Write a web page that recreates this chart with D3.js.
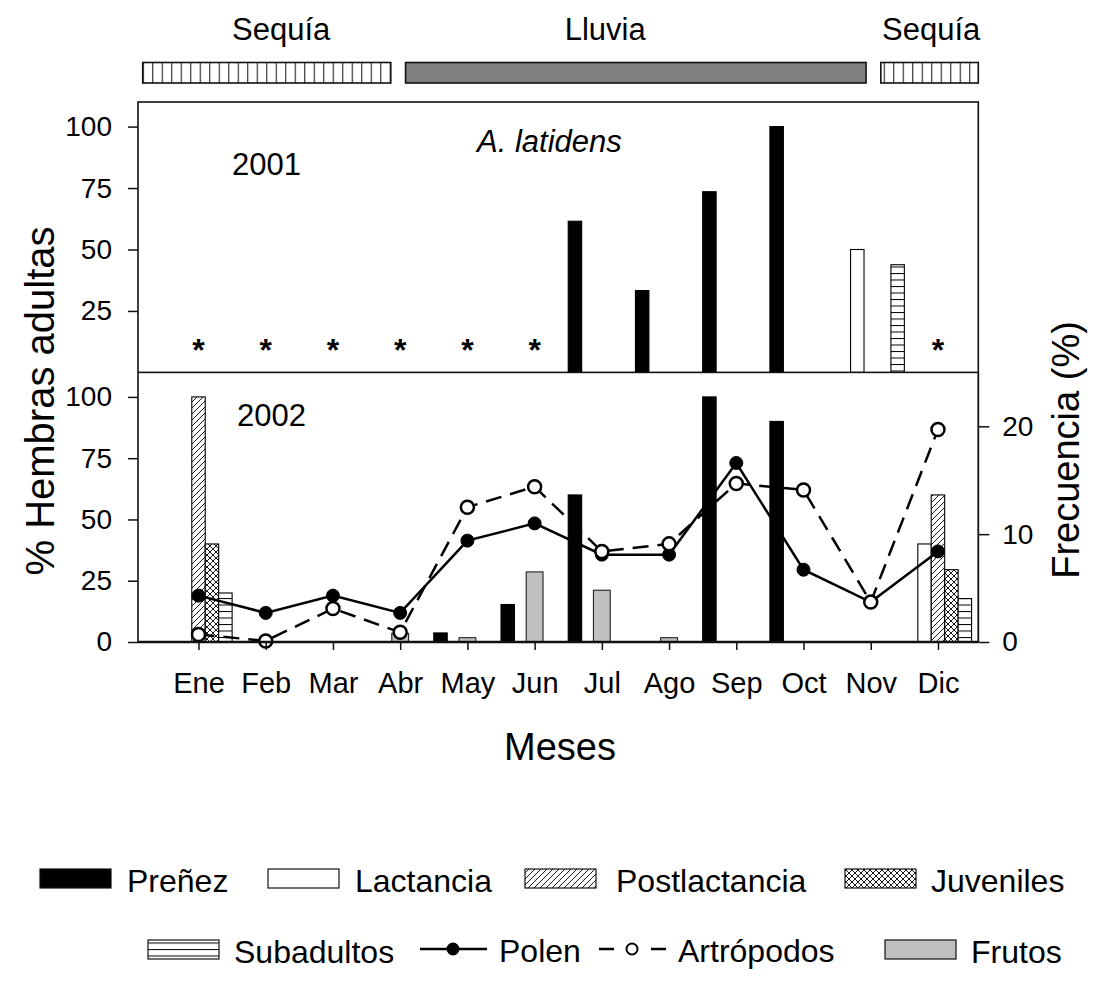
<!DOCTYPE html>
<html>
<head>
<meta charset="utf-8">
<script src="https://cdn.jsdelivr.net/npm/d3@7"></script>
<style>
  body { margin: 0; background: #fff; }
  text { font-family: Arial, "Liberation Sans", sans-serif; fill: #000; }
</style>
</head>
<body>
<svg id="chart" width="1093" height="991"></svg>
<script>
// ---- data ----
const months = ["Ene", "Feb", "Mar", "Abr", "May", "Jun", "Jul", "Ago", "Sep", "Oct", "Nov", "Dic"];

// 2001: % of adult females in each reproductive state
const prenez2001     = [0, 0, 0, 0, 0, 0, 61.5, 33.3, 73.5, 100, 0, 0];
const lactancia2001  = [0, 0, 0, 0, 0, 0, 0, 0, 0, 0, 50, 0];
const subadultos2001 = [0, 0, 0, 0, 0, 0, 0, 0, 0, 0, 43.8, 0];
const sinMuestra2001 = ["Ene", "Feb", "Mar", "Abr", "May", "Jun", "Dic"];

// 2002: % of adult females in each reproductive state
const prenez2002        = [0, 0, 0, 0, 3.7, 15.3, 60, 0, 100, 90, 0, 0];
const lactancia2002     = [0, 0, 0, 0, 0, 0, 0, 0, 0, 0, 0, 40];
const postlactancia2002 = [100, 0, 0, 0, 0, 0, 0, 0, 0, 0, 0, 60];
const juveniles2002     = [40, 0, 0, 0, 0, 0, 0, 0, 0, 0, 0, 29.5];
const subadultos2002    = [20, 0, 0, 0, 0, 0, 0, 0, 0, 0, 0, 17.7];

// 2002: diet frequency (%)
const frutos     = [0, 0, 0, 0.8, 0.4, 6.5, 4.8, 0.4, 0, 0, 0, 0];
const polen      = [4.3, 2.7, 4.3, 2.7, 9.4, 11.0, 8.1, 8.1, 16.6, 6.7, 3.7, 8.4];
const artropodos = [0.7, 0.1, 3.1, 0.9, 12.5, 14.4, 8.4, 9.1, 14.7, 14.1, 3.7, 19.7];

// seasons (month positions along the x axis)
const estaciones = [
  { nombre: "Sequía", inicio: 0.17, fin: 3.86, tipo: "seca", etiqueta: 2.23 },
  { nombre: "Lluvia", inicio: 4.08, fin: 10.93, tipo: "lluvia", etiqueta: 7.05 },
  { nombre: "Sequía", inicio: 11.15, fin: 12.6, tipo: "seca", etiqueta: 11.9 }
];

const leftTicksTop = [25, 50, 75, 100];
const leftTicksBottom = [0, 25, 50, 75, 100];
const rightTicks = [0, 10, 20];

// ---- layout ----
const svg = d3.select("#chart");
const L = 138, R = 978.3;
const topY0 = 372.4, topY1 = 102, botY0 = 642, botY1 = 372.4;

const x = d3.scaleLinear().domain([0.1, 12.6]).range([L, R]);
const yTop = d3.scaleLinear().domain([0, 110]).range([topY0, topY1]);
const yBot = d3.scaleLinear().domain([0, 110]).range([botY0, botY1]);
const yFreq = d3.scaleLinear().domain([0, 25]).range([botY0, botY1]);

// ---- patterns ----
const defs = svg.append("defs");
function pattern(id, w, h, draw, px, py) {
  const p = defs.append("pattern").attr("id", id).attr("patternUnits", "userSpaceOnUse")
    .attr("width", w).attr("height", h).attr("x", px || 0).attr("y", py || 0);
  p.append("rect").attr("width", w).attr("height", h).attr("fill", "#fff");
  draw(p);
}
pattern("vstripe", 9.5, 10, p => p.append("line").attr("x1", 0.5).attr("x2", 0.5).attr("y1", 0).attr("y2", 10)
  .attr("stroke", "#222").attr("stroke-width", 1.2), x(0.17));
pattern("diag", 6, 6, p => p.append("path").attr("d", "M-1,7 L7,-1 M-1,1 L1,-1 M5,7 L7,5")
  .attr("stroke", "#000").attr("stroke-width", 0.9));
pattern("cross", 6, 6, p => p.append("path").attr("d", "M-1,7 L7,-1 M-1,1 L1,-1 M5,7 L7,5 M-1,-1 L7,7 M-1,5 L1,7 M5,-1 L7,1")
  .attr("stroke", "#000").attr("stroke-width", 0.9));
pattern("horiz", 10, 6.5, p => p.append("line").attr("x1", 0).attr("x2", 10).attr("y1", 0.5).attr("y2", 0.5)
  .attr("stroke", "#000").attr("stroke-width", 1), 0, 0);

// ---- season bars ----
const seasonG = svg.append("g");
seasonG.selectAll("rect").data(estaciones).join("rect")
  .attr("x", d => x(d.inicio)).attr("y", 62.5)
  .attr("width", d => x(d.fin) - x(d.inicio)).attr("height", 20.5)
  .attr("fill", d => d.tipo === "seca" ? "url(#vstripe)" : "#808080")
  .attr("stroke", "#111").attr("stroke-width", 1.6);
seasonG.selectAll("text").data(estaciones).join("text")
  .attr("x", d => x(d.etiqueta)).attr("y", 40)
  .attr("text-anchor", "middle").attr("font-size", 31)
  .text(d => d.nombre);

// ---- bars ----
const barW = 0.2;
const series2001 = [
  { values: prenez2001, off: -0.4, fill: "#000" },
  { values: lactancia2001, off: -0.2, fill: "#fff" },
  { values: subadultos2001, off: 0.4, fill: "url(#horiz)" }
];
const series2002 = [
  { values: prenez2002, off: -0.4, fill: "#000" },
  { values: lactancia2002, off: -0.2, fill: "#fff" },
  { values: postlactancia2002, off: 0, fill: "url(#diag)" },
  { values: juveniles2002, off: 0.2, fill: "url(#cross)" },
  { values: subadultos2002, off: 0.4, fill: "url(#horiz)" }
];

function drawBars(g, series, y) {
  series.forEach(s => {
    const pts = s.values.map((v, i) => ({ m: i + 1, v })).filter(d => d.v > 0);
    g.append("g").selectAll("rect").data(pts).join("rect")
      .attr("x", d => x(d.m + s.off - barW / 2))
      .attr("width", x(barW) - x(0))
      .attr("y", d => y(d.v))
      .attr("height", d => y(0) - y(d.v))
      .attr("fill", s.fill).attr("stroke", "#000").attr("stroke-width", 1.1);
  });
}

const gTop = svg.append("g");
drawBars(gTop, series2001, yTop);

const gBot = svg.append("g");
// fruit frequency bars (right axis)
const frutoPts = frutos.map((v, i) => ({ m: i + 1, v })).filter(d => d.v > 0);
gBot.append("g").selectAll("rect").data(frutoPts).join("rect")
  .attr("x", d => x(d.m - 0.125)).attr("width", x(0.25) - x(0))
  .attr("y", d => yFreq(d.v)).attr("height", d => yFreq(0) - yFreq(d.v))
  .attr("fill", "#c0c0c0").attr("stroke", "#222").attr("stroke-width", 1.1);
drawBars(gBot, series2002, yBot);

// no-sample markers for 2001
gTop.append("g").selectAll("text").data(sinMuestra2001).join("text")
  .attr("x", d => x(months.indexOf(d) + 1)).attr("y", 361)
  .attr("text-anchor", "middle").attr("font-size", 32).attr("font-weight", "bold")
  .text("*");

// ---- diet lines ----
const line = d3.line().x((d, i) => x(i + 1)).y(d => yFreq(d));
gBot.append("path").datum(polen).attr("d", line)
  .attr("fill", "none").attr("stroke", "#000").attr("stroke-width", 2.5);
gBot.append("path").datum(artropodos).attr("d", line)
  .attr("fill", "none").attr("stroke", "#000").attr("stroke-width", 2.5)
  .attr("stroke-dasharray", "16,9");
gBot.append("g").selectAll("circle").data(polen).join("circle")
  .attr("cx", (d, i) => x(i + 1)).attr("cy", d => yFreq(d)).attr("r", 6.5)
  .attr("fill", "#000").attr("stroke", "#000").attr("stroke-width", 1);
gBot.append("g").selectAll("circle").data(artropodos).join("circle")
  .attr("cx", (d, i) => x(i + 1)).attr("cy", d => yFreq(d)).attr("r", 6.5)
  .attr("fill", "#fff").attr("stroke", "#000").attr("stroke-width", 2.5);

// ---- frames and axes ----
const frame = svg.append("g").attr("stroke", "#111").attr("fill", "none");
frame.append("rect").attr("x", L).attr("y", topY1).attr("width", R - L).attr("height", topY0 - topY1)
  .attr("stroke-width", 1.6);
frame.append("line").attr("x1", L).attr("x2", L).attr("y1", topY0).attr("y2", botY0).attr("stroke-width", 1.6);
frame.append("line").attr("x1", R).attr("x2", R).attr("y1", topY0).attr("y2", botY0).attr("stroke-width", 1.8);
frame.append("line").attr("x1", L).attr("x2", R).attr("y1", botY0).attr("y2", botY0).attr("stroke-width", 2.6);

function styleAxis(g) {
  g.select(".domain").remove();
  g.selectAll(".tick line").attr("stroke", "#111").attr("stroke-width", 1.5);
  g.selectAll(".tick text").attr("font-size", 28).attr("font-family", "Arial, 'Liberation Sans', sans-serif");
}
svg.append("g").attr("transform", `translate(${L},0)`)
  .call(d3.axisLeft(yTop).tickValues(leftTicksTop).tickSize(10).tickPadding(16)).call(styleAxis);
svg.append("g").attr("transform", `translate(${L},0)`)
  .call(d3.axisLeft(yBot).tickValues(leftTicksBottom).tickSize(10).tickPadding(16)).call(styleAxis);
svg.append("g").attr("transform", `translate(${R},0)`)
  .call(d3.axisRight(yFreq).tickValues(rightTicks).tickSize(11).tickPadding(13)).call(styleAxis);
svg.append("g").attr("transform", `translate(0,${botY0})`)
  .call(d3.axisBottom(x).tickValues(d3.range(1, 13)).tickFormat(d => months[d - 1]).tickSize(8).tickPadding(22))
  .call(styleAxis)
  .call(g => g.selectAll(".tick text").attr("font-size", 29));

// ---- panel labels ----
svg.append("text").attr("x", 232).attr("y", 175).attr("font-size", 31).text("2001");
svg.append("text").attr("x", 237).attr("y", 426).attr("font-size", 31).text("2002");
svg.append("text").attr("x", 477).attr("y", 152).attr("font-size", 31).attr("font-style", "italic").text("A. latidens");

// ---- axis titles ----
svg.append("text").attr("transform", "translate(54,401) rotate(-90)")
  .attr("text-anchor", "middle").attr("font-size", 40).text("% Hembras adultas");
svg.append("text").attr("transform", "translate(1079,450) rotate(-90)")
  .attr("text-anchor", "middle").attr("font-size", 38).text("Frecuencia (%)");
svg.append("text").attr("x", 560).attr("y", 760).attr("text-anchor", "middle")
  .attr("font-size", 38).text("Meses");

// ---- legend ----
const legendBoxes = [
  { label: "Preñez", x: 40, y: 869, fill: "#000", gap: 16 },
  { label: "Lactancia", x: 268, y: 869, fill: "#fff", gap: 16 },
  { label: "Postlactancia", x: 525, y: 869, fill: "url(#diag)", gap: 20 },
  { label: "Juveniles", x: 845, y: 869, fill: "url(#cross)", gap: 15 },
  { label: "Subadultos", x: 148, y: 940, fill: "url(#horiz)", gap: 15 },
  { label: "Frutos", x: 885, y: 940, fill: "#c0c0c0", gap: 15 }
];
const legendLines = [
  { label: "Polen", x: 420, y: 949, dash: null, fill: "#000" },
  { label: "Artrópodos", x: 599, y: 949, dash: "15,37", fill: "#fff" }
];
const lg = svg.append("g");
lg.selectAll("rect").data(legendBoxes).join("rect")
  .attr("x", d => d.x).attr("y", d => d.y).attr("width", 71).attr("height", 19)
  .attr("fill", d => d.fill).attr("stroke", "#111").attr("stroke-width", 1.2);
lg.selectAll("text.box").data(legendBoxes).join("text").attr("class", "box")
  .attr("x", d => d.x + 71 + d.gap).attr("y", d => d.y + 23).attr("font-size", 32).text(d => d.label);
const ll = lg.selectAll("g.ln").data(legendLines).join("g").attr("class", "ln");
ll.append("line").attr("x1", d => d.x).attr("x2", d => d.x + 67).attr("y1", d => d.y).attr("y2", d => d.y)
  .attr("stroke", "#000").attr("stroke-width", 2.5).attr("stroke-dasharray", d => d.dash);
ll.append("circle").attr("cx", d => d.x + 33).attr("cy", d => d.y).attr("r", 5.5)
  .attr("fill", d => d.fill).attr("stroke", "#000").attr("stroke-width", 2);
ll.append("text").attr("x", d => d.x + 79).attr("y", d => d.y + 13).attr("font-size", 32).text(d => d.label);
</script>
</body>
</html>
